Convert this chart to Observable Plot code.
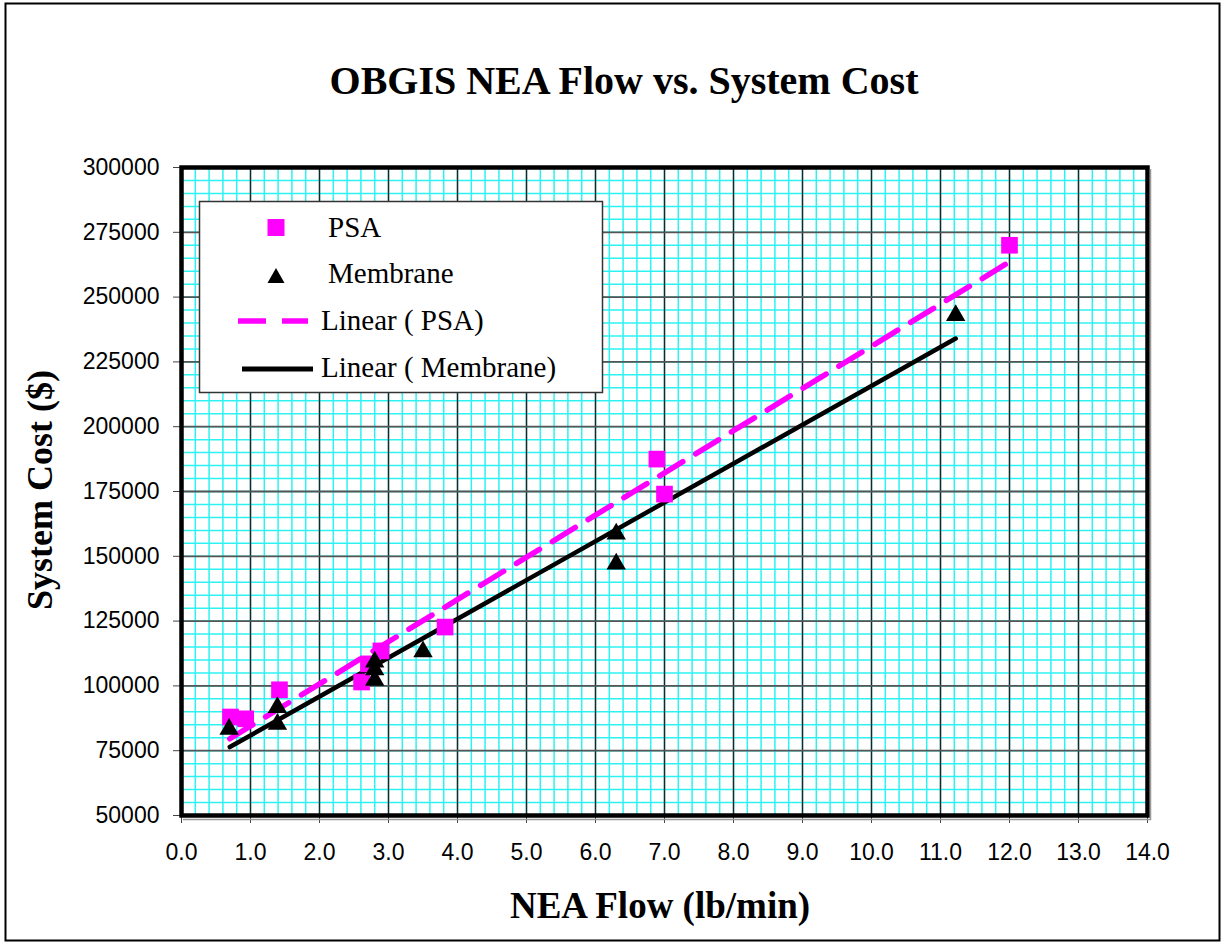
<!DOCTYPE html>
<html><head><meta charset="utf-8">
<script src="https://cdn.jsdelivr.net/npm/d3@7"></script>
<script src="https://cdn.jsdelivr.net/npm/@observablehq/plot@0.6"></script>
<style>
body{margin:0;background:#fff}
#wrap{position:relative;width:1225px;height:945px;overflow:hidden;background:#fff}
#wrap svg{position:absolute;left:0;top:0}
</style>
</head><body><div id="wrap"></div>
<script>
// ---- data ----
const psaX = [0.71, 0.93, 1.42, 2.61, 2.71, 2.89, 3.82, 6.89, 7.00, 12.00];
const psaY = [88000, 87300, 98500, 101500, 108500, 113500, 122700, 187500, 174000, 270000];
const memX = [0.69, 1.39, 1.39, 2.80, 2.80, 2.80, 3.50, 6.30, 6.30, 11.22];
const memY = [84100, 92500, 86000, 110000, 107000, 103000, 114000, 159400, 147800, 243700];
const psaTrendX = [0.70, 12.00];
const psaTrendY = [79600, 263600];
const memTrendX = [0.70, 11.22];
const memTrendY = [76400, 234000];
const xTicks = [0,1,2,3,4,5,6,7,8,9,10,11,12,13,14];
const yTicks = [50000,75000,100000,125000,150000,175000,200000,225000,250000,275000,300000];
const xMinor = d3.range(0, 70.5, 1).map(i => i / 5);
const yMinor = d3.range(50000, 300001, 5000);
const legendLabels = ["PSA", "Membrane", "Linear ( PSA)", "Linear ( Membrane)"];
const titleText = "OBGIS NEA Flow vs. System Cost";
const xLabel = "NEA Flow (lb/min)";
const yLabel = "System Cost ($)";

const psa = psaX.map((x, i) => ({x, y: psaY[i]}));
const mem = memX.map((x, i) => ({x, y: memY[i]}));
const psaTrend = psaTrendX.map((x, i) => ({x, y: psaTrendY[i]}));
const memTrend = memTrendX.map((x, i) => ({x, y: memTrendY[i]}));

const MAG = "#ff00ff";
const chart = Plot.plot({
  width: 1225, height: 945,
  marginLeft: 181, marginRight: 78, marginTop: 167, marginBottom: 130,
  x: {domain: [0, 14]},
  y: {domain: [50000, 300000]},
  style: {background: "transparent", fontFamily: "'Liberation Sans', Arial, sans-serif", fontSize: "23px", color: "#000", overflow: "visible"},
  marks: [
    Plot.ruleX(xMinor, {stroke: "#2ef2f2", strokeWidth: 1.5}),
    Plot.ruleY(yMinor, {stroke: "#2ef2f2", strokeWidth: 1.5}),
    Plot.ruleX(xTicks, {stroke: "#222", strokeWidth: 1.4}),
    Plot.ruleY(yTicks, {stroke: "#555", strokeWidth: 1.8}),
    Plot.line(psaTrend, {x: "x", y: "y", stroke: MAG, strokeWidth: 5.5, strokeDasharray: "27,15"}),
    Plot.line(memTrend, {x: "x", y: "y", stroke: "#000", strokeWidth: 4.5}),
    Plot.dot(psa, {x: "x", y: "y", symbol: "square", r: 9.4, fill: MAG, stroke: "none"}),
    Plot.dot(mem, {x: "x", y: "y", symbol: "triangle", r: 7.2, fill: "#000", stroke: "none", dy: 2}),
    Plot.axisX(xTicks, {tickFormat: d => d.toFixed(1), tickSize: 8, tickPadding: 20, stroke: "#444", fill: "#000", fontSize: 23, label: null}),
    Plot.axisY(yTicks, {tickFormat: d => String(d), tickSize: 8, tickPadding: 14, stroke: "#444", fill: "#000", fontSize: 23, label: null}),
    Plot.frame({stroke: "#000", strokeWidth: 4.5})
  ]
});
const wrap = document.getElementById("wrap");
wrap.appendChild(chart);

// ---- overlay: titles, legend, border ----
const ov = d3.select(wrap).append("svg").attr("width", 1225).attr("height", 945).style("pointer-events", "none");
const serif = "'Liberation Serif', 'Times New Roman', serif";
ov.append("rect").attr("x", 5.5).attr("y", 3.5).attr("width", 1214).attr("height", 937)
  .attr("fill", "none").attr("stroke", "#000").attr("stroke-width", 2);
// faint shadow on the right/bottom of the plot frame
ov.append("path").attr("d", "M1150.5,169 V819.5 H183").attr("fill", "none").attr("stroke", "#999").attr("stroke-width", 1.5);
ov.append("text").attr("x", 624).attr("y", 94).attr("text-anchor", "middle")
  .attr("font-family", serif).attr("font-weight", "bold").attr("font-size", 40).text(titleText);
ov.append("text").attr("x", 660).attr("y", 918).attr("text-anchor", "middle")
  .attr("font-family", serif).attr("font-weight", "bold").attr("font-size", 37).text(xLabel);
ov.append("text").attr("transform", "translate(52,490) rotate(-90)").attr("text-anchor", "middle")
  .attr("font-family", serif).attr("font-weight", "bold").attr("font-size", 36).text(yLabel);

const lg = ov.append("g");
lg.append("rect").attr("x", 199.5).attr("y", 201.5).attr("width", 403).attr("height", 191)
  .attr("fill", "#fff").attr("stroke", "#333").attr("stroke-width", 1.5);
lg.append("rect").attr("x", 267.5).attr("y", 219).attr("width", 17).attr("height", 17).attr("fill", MAG);
lg.append("path").attr("d", "M276,268 L284.5,283 L267.5,283 Z").attr("fill", "#000");
lg.append("line").attr("x1", 238).attr("x2", 308).attr("y1", 321).attr("y2", 321)
  .attr("stroke", MAG).attr("stroke-width", 5.5).attr("stroke-dasharray", "28,16");
lg.append("line").attr("x1", 242).attr("x2", 313).attr("y1", 369).attr("y2", 369)
  .attr("stroke", "#000").attr("stroke-width", 5);
const lpos = [[328, 237], [328, 283], [321, 330], [321, 377]];
legendLabels.forEach((t, i) => {
  lg.append("text").attr("x", lpos[i][0]).attr("y", lpos[i][1]).attr("font-family", serif)
    .attr("font-size", 29).text(t);
});
</script>
</body></html>
